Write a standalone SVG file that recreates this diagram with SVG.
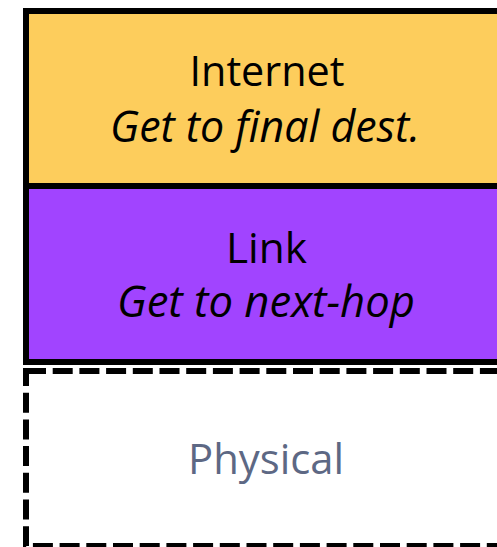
<svg xmlns="http://www.w3.org/2000/svg" width="497" height="547" viewBox="0 0 497 547">
  <style>
    .layer { stroke: #000; stroke-width: 6; }
    .dashed { fill: #fff; stroke: #000; stroke-width: 6; stroke-dasharray: 20 6.7; }
    .title { font-family: "Open Sans", "DejaVu Sans", sans-serif; font-size: 42px; font-weight: 370; fill: #000; text-anchor: middle; }
    .sub { font-family: "Open Sans", "DejaVu Sans", sans-serif; font-size: 43px; font-weight: 370; font-style: italic; fill: #000; text-anchor: middle; }
    .muted { font-family: "Open Sans", "DejaVu Sans", sans-serif; font-size: 42px; font-weight: 370; fill: #5d6884; text-anchor: middle; }
  </style>
  <rect width="497" height="547" fill="#fff"/>
  <g id="internet">
    <rect class="layer" x="26" y="11" width="500" height="175" fill="#fdcd5c"/>
    <text class="title" x="267" y="86" textLength="155" lengthAdjust="spacingAndGlyphs">Internet</text>
    <text class="sub" x="265" y="142" textLength="310" lengthAdjust="spacingAndGlyphs">Get to final dest.</text>
  </g>
  <g id="link">
    <rect class="layer" x="26" y="186" width="500" height="176" fill="#a144ff"/>
    <text class="title" x="266.5" y="263" textLength="81" lengthAdjust="spacingAndGlyphs">Link</text>
    <text class="sub" x="266" y="317" textLength="298" lengthAdjust="spacingAndGlyphs">Get to next-hop</text>
  </g>
  <g id="physical">
    <rect class="dashed" x="26" y="371" width="500" height="175"/>
    <text class="muted" x="266" y="474" textLength="156" lengthAdjust="spacingAndGlyphs">Physical</text>
  </g>
  <g id="connectors"/>
</svg>
